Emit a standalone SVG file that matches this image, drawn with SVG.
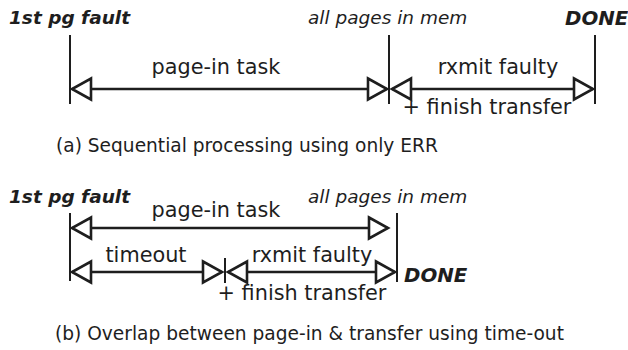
<svg xmlns="http://www.w3.org/2000/svg" width="628" height="350" viewBox="0 0 628 350">
  <defs>
    <marker id="tri" markerUnits="userSpaceOnUse" markerWidth="26" markerHeight="28" viewBox="-3 -14 26 28" refX="19" refY="0" orient="auto-start-reverse">
      <path d="M0,-10.5 L19,0 L0,10.5 Z" fill="#fff" stroke="#1e1e1e" stroke-width="2.6" stroke-linejoin="miter"/>
    </marker>
    <style>
      text { font-family: "DejaVu Sans", "Liberation Sans", sans-serif; fill: #1e1e1e; }
      .lbl { font-size: 20.8px; }
      .cap { font-size: 18.6px; }
      .evt { font-size: 18.5px; font-style: italic; }
      .key { font-size: 18.5px; font-style: italic; font-weight: bold; }
      .done { font-size: 19.8px; font-style: italic; font-weight: bold; }
      .tick { stroke: #1e1e1e; stroke-width: 2; fill: none; }
      .span { stroke: #1e1e1e; stroke-width: 2.6; fill: none; marker-start: url(#tri); marker-end: url(#tri); }
    </style>
  </defs>

  <!-- (a) sequential -->
  <g id="a-fault"><text class="key" x="9" y="24">1st pg fault</text><line class="tick" x1="70" y1="35" x2="70" y2="104"/></g>
  <g id="a-mem"><text class="evt" x="308" y="24">all pages in mem</text><line class="tick" x1="389" y1="35" x2="389" y2="104"/></g>
  <g id="a-done"><text class="done" x="565" y="25">DONE</text><line class="tick" x1="595" y1="35" x2="595" y2="104"/></g>
  <g id="a-connectors">
    <line class="span" x1="72" y1="89" x2="387" y2="89"/>
    <line class="span" x1="392" y1="89" x2="593" y2="89"/>
  </g>
  <g id="a-labels">
    <text class="lbl" x="216" y="74" text-anchor="middle">page-in task</text>
    <text class="lbl" x="498" y="74" text-anchor="middle">rxmit faulty</text>
    <text class="lbl" x="487" y="114" text-anchor="middle">+ finish transfer</text>
    <text class="cap" x="56" y="152">(a) Sequential processing using only ERR</text>
  </g>

  <!-- (b) overlap -->
  <g id="b-fault"><text class="key" x="9" y="203">1st pg fault</text><line class="tick" x1="70" y1="213" x2="70" y2="281"/></g>
  <g id="b-mem"><text class="evt" x="308" y="203">all pages in mem</text><line class="tick" x1="397" y1="213" x2="397" y2="282"/></g>
  <g id="b-timeout"><line class="tick" x1="225" y1="258" x2="225" y2="283"/></g>
  <g id="b-done"><text class="done" x="404" y="282">DONE</text></g>
  <g id="b-connectors">
    <line class="span" x1="72" y1="228" x2="388" y2="228"/>
    <line class="span" x1="72" y1="272" x2="222" y2="272"/>
    <line class="span" x1="228" y1="272" x2="395" y2="272"/>
  </g>
  <g id="b-labels">
    <text class="lbl" x="216" y="217" text-anchor="middle">page-in task</text>
    <text class="lbl" x="146" y="262" text-anchor="middle">timeout</text>
    <text class="lbl" x="312" y="262" text-anchor="middle">rxmit faulty</text>
    <text class="lbl" x="302" y="300" text-anchor="middle">+ finish transfer</text>
    <text class="cap" x="55" y="340">(b) Overlap between page-in &amp; transfer using time-out</text>
  </g>
</svg>
